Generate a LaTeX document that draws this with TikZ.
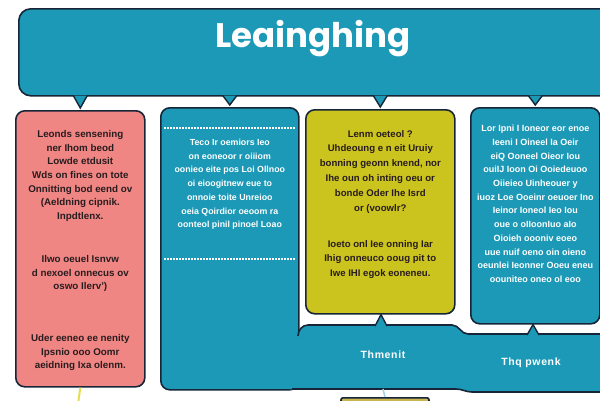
\documentclass[tikz,border=0pt]{standalone}
\usepackage{fontspec}
\setmainfont{Liberation Sans}
\newfontfamily\headfont{Poppins}
\usetikzlibrary{arrows.meta, positioning, calc}
\definecolor{tealc}{RGB}{28,153,182}
\definecolor{redc}{RGB}{240,134,132}
\definecolor{yelc}{RGB}{204,196,30}
\definecolor{edgec}{RGB}{22,38,56}
\definecolor{inkc}{RGB}{40,28,30}
\definecolor{tailc}{RGB}{232,220,80}
\definecolor{stemc}{RGB}{160,212,228}
\definecolor{nextc}{RGB}{201,182,80}

\begin{document}
\begin{tikzpicture}[
  x=1pt, y=-1pt,
  box/.style      = {rectangle, draw=edgec, line width=1.6pt, rounded corners=9pt,
                     inner sep=0pt, anchor=north west},
  headbox/.style  = {box, fill=tealc, rounded corners=12pt},
  redbox/.style   = {box, fill=redc},
  tealbox/.style  = {box, fill=tealc},
  yelbox/.style   = {box, fill=yelc},
  headtxt/.style  = {font=\headfont\bfseries\fontsize{34}{34}\selectfont, text=white,
                     inner sep=0pt, anchor=base},
  inktxt/.style   = {font=\bfseries\fontsize{9.8}{13.7}\selectfont, text=inkc,
                     align=center, inner sep=0pt},
  yeltxt/.style   = {inktxt, font=\bfseries\fontsize{9.6}{14.8}\selectfont},
  wtxt/.style     = {inktxt, text=white, font=\bfseries\fontsize{8.8}{13.7}\selectfont},
  pantxt/.style   = {font=\bfseries\fontsize{10.5}{12}\selectfont\addfontfeature{LetterSpace=6},
                     text=white, inner sep=0pt},
  ptr/.style      = {fill=tealc, draw=edgec, line width=1.4pt, line join=miter},
  dotline/.style  = {white, line width=1.2pt, dash pattern=on 1.5pt off 1.5pt},
  tail/.style     = {tailc, line width=2pt},
  stem/.style     = {stemc, line width=1.5pt}
]
\useasboundingbox (0,0) rectangle (600,400);
\clip (0,0) rectangle (600,400);

\node[headbox, minimum width=600pt, minimum height=87pt] (title) at (18,8) {};
\node[headtxt] (head) at (313,47) {Leainghing};

\node[redbox,  minimum width=129pt, minimum height=276pt] (red)  at (15,110)  {};
\node[tealbox, minimum width=138pt, minimum height=282pt] (blu2) at (160,107) {};
\node[yelbox,  minimum width=149pt, minimum height=204pt] (yel)  at (305,109) {};
\node[tealbox, minimum width=129pt, minimum height=216pt] (blu4) at (470,107) {};

% bottom panel, joined to the second box
\fill[tealc] (289,336) -- (298,336) to[out=90,in=180] (308,325) -- (452,325)
  to[out=0,in=180] (468,334) -- (612,334) -- (612,392) -- (472,392)
  to[out=180,in=0] (456,389) -- (289,389) -- cycle;
\draw[edgec, line width=1.6pt] (298,336) to[out=90,in=180] (308,325) -- (452,325)
  to[out=0,in=180] (468,334) -- (612,334);
\draw[edgec, line width=1.6pt] (612,392) -- (472,392) to[out=180,in=0] (456,389) -- (292,389);

\coordinate (ptopa) at (381,326);
\coordinate (ptopb) at (533,335);
\coordinate (pbot)  at (383,389);
\coordinate (redtail) at (78,404);

\foreach \b in {red,blu2,yel,blu4}
  \filldraw[ptr] ($(title.south -| \b.north)+(-7,-1)$) -- ($(\b.north)+(0,-2)$)
    -- ($(title.south -| \b.north)+(7,-1)$);
\filldraw[ptr] ($(ptopa)+(-6,0)$) -- (yel.south -| ptopa) -- ($(ptopa)+(6,0)$);
\filldraw[ptr] ($(ptopb)+(-6,0)$) -- (blu4.south -| ptopb) -- ($(ptopb)+(6,0)$);

\node[inktxt, below=20pt of red.north] (r1) {Leonds sensening\\ner Ihom beod\\Lowde etdusit\\
  Wds on fines on tote\\Onnitting bod eend ov\\(Aeldning cipnik.\\Inpdtlenx.};
\node[inktxt, below=145pt of red.north] (r2) {Ilwo oeuel Isnvw\\d nexoel onnecus ov\\oswo Ilerv')};
\node[inktxt, below=224pt of red.north] (r3) {Uder eeneo ee nenity\\Ipsnio ooo Oomr\\aeidning Ixa olenm.};

\draw[dotline] ($(blu2.north west)+(4,21)$) -- ($(blu2.north east)+(-4,21)$);
\node[wtxt, below=32pt of blu2.north] (b1) {Teco Ir oemiors Ieo\\on eoneoor r oiiiom\\
  oonieo eite pos Loi Ollnoo\\oi eioogitnew eue to\\onnoie toite Unreioo\\
  oeia Qoirdior oeoom ra\\oonteol pinil pinoel Loao};
\draw[dotline] ($(blu2.north west)+(4,152)$) -- ($(blu2.north east)+(-4,152)$);

\node[yeltxt, below=21pt of yel.north] (y1)
  {Lenm oeteol ?\\Uhdeoung e n eit Uruiy\\bonning geonn knend, nor\\
  Ihe oun oh inting oeu or\\bonde Oder Ihe Isrd\\or (voowlr?};
\node[yeltxt, below=131pt of yel.north] (y2)
  {Ioeto onl Iee onning Iar\\Ihig onneuco ooug pit to\\Iwe IHI egok eoneneu.};

\node[wtxt, below=18pt of blu4.north, font=\bfseries\fontsize{9}{13.7}\selectfont] (f1)
  {Lor Ipni I Ioneor eor enoe\\Ieeni I Oineel Ia Oeir\\
  eiQ Ooneel Oieor Iou\\ouiIJ Ioon Oi Ooiedeuoo\\Oiieieo Uinheouer y\\
  iuoz Loe Ooeinr oeuoer Ino\\Ieinor Ioneol Ieo Iou\\oue o oIIoonIuo aIo\\
  Oioieh oooniv eoeo\\uue nuif oeno oin oieno\\oeunlei Ieonner Ooeu eneu\\
  oouniteo oneo ol eoo};

\node[pantxt] (pa) at (383,355) {Thmenit};
\node[pantxt] (pb) at (531,363) {Thq pwenk};

\node[box, fill=nextc, rounded corners=2pt, anchor=north, minimum width=88pt,
  minimum height=20pt] (nxt) at (385,397) {};
\draw[tail] (red.south) -- (redtail);
\draw[stem] (pbot) -- (nxt.north);
\end{tikzpicture}
\end{document}
